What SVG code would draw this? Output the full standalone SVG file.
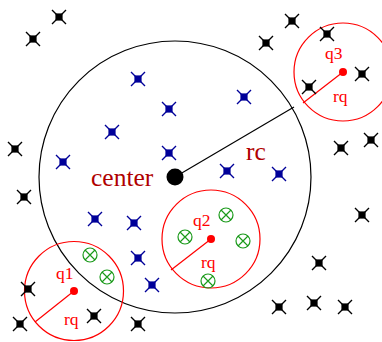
<svg xmlns="http://www.w3.org/2000/svg" xmlns:xlink="http://www.w3.org/1999/xlink" width="382" height="342" viewBox="0 0 382 342">
<style>
.big{fill:none;stroke:#000;stroke-width:1.2}
.qc{fill:none;stroke:#ff0000;stroke-width:1.2}
.rad{stroke:#ff0000;stroke-width:1.2}
.qlab{font-family:"Liberation Serif",serif;font-size:17.5px;fill:#ff0000}
.clab{font-family:"Liberation Serif",serif;font-size:25.5px;fill:#b00000}
</style>
<defs>
<g id="pk">
<path d="M-7,-7L7,7M-7,7L7,-7" stroke="#000" stroke-width="1.4"/>
<rect x="-3.6" y="-3.6" width="7.2" height="7.2" fill="#000"/>
</g>
<g id="pb">
<path d="M-7,-7L7,7M-7,7L7,-7" stroke="#000099" stroke-width="1.4"/>
<rect x="-3.6" y="-3.6" width="7.2" height="7.2" fill="#000099"/>
</g>
<g id="pg" fill="none" stroke="#1a9a1a" stroke-width="1.2">
<circle r="7"/>
<path d="M-5,-5L5,5M-5,5L5,-5"/>
</g>
</defs>
<rect width="382" height="342" fill="#fff"/>
<g id="connectors">
<line x1="175" y1="177" x2="294" y2="107" stroke="#000" stroke-width="1.2"/>
<line class="rad" x1="74" y1="291" x2="35" y2="322"/>
<line class="rad" x1="211" y1="239" x2="171" y2="270"/>
<line class="rad" x1="343" y1="72" x2="303" y2="103"/>
</g>
<g id="search-circle">
<circle class="big" cx="175" cy="177" r="136"/>
</g>
<g id="center">
<circle cx="175" cy="177" r="8.5" fill="#000"/>
<text class="clab" x="91" y="186">center</text>
<text class="clab" x="246" y="160">rc</text>
</g>
<g id="q1">
<circle class="qc" cx="74" cy="291" r="49.5"/>
<circle cx="74" cy="291" r="4" fill="#ff0000"/>
<text class="qlab" x="56" y="279">q1</text>
<text class="qlab" x="64" y="325">rq</text>
</g>
<g id="q2">
<circle class="qc" cx="211" cy="239" r="49"/>
<circle cx="211" cy="239" r="4" fill="#ff0000"/>
<text class="qlab" x="193" y="226">q2</text>
<text class="qlab" x="201" y="268">rq</text>
</g>
<g id="q3">
<circle class="qc" cx="343" cy="72" r="49"/>
<circle cx="343" cy="72" r="4" fill="#ff0000"/>
<text class="qlab" x="325" y="59">q3</text>
<text class="qlab" x="333" y="102">rq</text>
</g>
<g id="points-outside">
<use xlink:href="#pk" x="59" y="17"/>
<use xlink:href="#pk" x="33" y="39"/>
<use xlink:href="#pk" x="292" y="21"/>
<use xlink:href="#pk" x="266" y="43"/>
<use xlink:href="#pk" x="327" y="34"/>
<use xlink:href="#pk" x="362" y="74"/>
<use xlink:href="#pk" x="309" y="87"/>
<use xlink:href="#pk" x="15" y="149"/>
<use xlink:href="#pk" x="371" y="140"/>
<use xlink:href="#pk" x="341" y="148"/>
<use xlink:href="#pk" x="24" y="197"/>
<use xlink:href="#pk" x="362" y="215"/>
<use xlink:href="#pk" x="319" y="263"/>
<use xlink:href="#pk" x="28" y="289"/>
<use xlink:href="#pk" x="314" y="303"/>
<use xlink:href="#pk" x="279" y="307"/>
<use xlink:href="#pk" x="345" y="307"/>
<use xlink:href="#pk" x="20" y="324"/>
<use xlink:href="#pk" x="94" y="316"/>
<use xlink:href="#pk" x="138" y="324"/>
</g>
<g id="points-inside">
<use xlink:href="#pb" x="138" y="79"/>
<use xlink:href="#pb" x="169" y="109"/>
<use xlink:href="#pb" x="244" y="97"/>
<use xlink:href="#pb" x="112" y="132"/>
<use xlink:href="#pb" x="169" y="153"/>
<use xlink:href="#pb" x="63" y="162"/>
<use xlink:href="#pb" x="227" y="171"/>
<use xlink:href="#pb" x="279" y="174"/>
<use xlink:href="#pb" x="95" y="219"/>
<use xlink:href="#pb" x="134" y="223"/>
<use xlink:href="#pb" x="138" y="258"/>
<use xlink:href="#pb" x="152" y="285"/>
</g>
<g id="points-found">
<use xlink:href="#pg" x="90" y="255"/>
<use xlink:href="#pg" x="107" y="277"/>
<use xlink:href="#pg" x="185" y="237"/>
<use xlink:href="#pg" x="226" y="215"/>
<use xlink:href="#pg" x="243" y="241"/>
<use xlink:href="#pg" x="208" y="281"/>
</g>
</svg>
